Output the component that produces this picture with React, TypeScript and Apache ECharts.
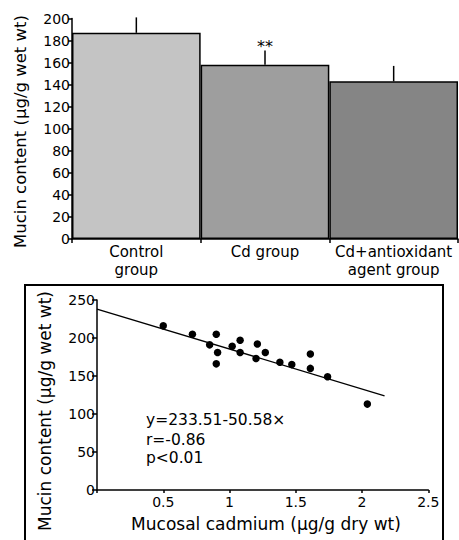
import React, { useEffect, useRef } from 'react';
import * as echarts from 'echarts';

const groups = ['Control\ngroup', 'Cd group', 'Cd+antioxidant\nagent group'];
const mucinMeans = [187, 158, 143];
const mucinErrors = [14, 13, 14];
const significance = ['', '**', ''];
const barColors = ['#c4c4c4', '#9e9e9e', '#858585'];

const cadmium = [0.5, 0.72, 0.9, 0.85, 0.91, 0.9, 1.02, 1.08, 1.08, 1.21, 1.27, 1.2, 1.38, 1.47, 1.61, 1.61, 1.74, 2.04];
const mucinScatter = [216, 205, 205, 191, 181, 166, 189, 197, 181, 192, 181, 173, 168, 165, 179, 160, 149, 113];
const fitLineX = [0, 2.17];
const fitLineY = [238, 124];
const statLines = ['y=233.51-50.58×', 'r=-0.86', 'p<0.01'];

const yTitle = 'Mucin content (μg/g wet wt)';
const xTitle = 'Mucosal cadmium (μg/g dry wt)';

const FONT = '"DejaVu Sans", Verdana, sans-serif';

export default function App() {
  const ref = useRef<HTMLDivElement>(null);
  useEffect(() => {
    if (!ref.current) return;
    const chart = echarts.init(ref.current, null, { renderer: 'svg' });
    const axisLine = { show: true, lineStyle: { color: '#000', width: 1.5 } };
    const axisTick = (len: number) => ({ show: true, length: len, lineStyle: { color: '#000', width: 1.5 } });
    chart.setOption({
      animation: false,
      backgroundColor: '#fff',
      grid: [
        { left: 72, top: 18.5, width: 386, height: 220.5 },
        { left: 97, top: 300, width: 331.3, height: 190 },
      ],
      xAxis: [
        {
          gridIndex: 0,
          type: 'category',
          data: groups,
          axisLine,
          axisTick: { ...axisTick(4), interval: 0 },
          axisLabel: { color: '#000', fontSize: 15, lineHeight: 18, margin: 4, fontFamily: FONT, interval: 0 },
          splitLine: { show: false },
        },
        {
          gridIndex: 1,
          type: 'value',
          min: 0,
          max: 2.5,
          interval: 0.5,
          axisLine: { ...axisLine, onZero: false },
          axisTick: axisTick(3),
          axisLabel: {
            color: '#000', fontSize: 14, margin: 5, fontFamily: FONT,
            formatter: (v: number) => (v === 0 ? '' : String(v)),
          },
          splitLine: { show: false },
        },
      ],
      yAxis: [
        {
          gridIndex: 0,
          type: 'value',
          min: 0,
          max: 200,
          interval: 20,
          axisLine,
          axisTick: axisTick(4),
          axisLabel: { color: '#000', fontSize: 14, margin: 2, fontFamily: FONT },
          splitLine: { show: false },
        },
        {
          gridIndex: 1,
          type: 'value',
          min: 0,
          max: 250,
          interval: 50,
          axisLine: { ...axisLine, onZero: false },
          axisTick: axisTick(5),
          axisLabel: { color: '#000', fontSize: 14, margin: 2, fontFamily: FONT },
          splitLine: { show: false },
        },
      ],
      series: [
        {
          type: 'bar',
          xAxisIndex: 0,
          yAxisIndex: 0,
          barCategoryGap: '0%',
          data: mucinMeans.map((v, i) => ({ value: v, itemStyle: { color: barColors[i] } })),
          itemStyle: { borderColor: '#000', borderWidth: 1.5 },
        },
        {
          type: 'custom',
          xAxisIndex: 0,
          yAxisIndex: 0,
          z: 5,
          data: mucinMeans.map((v, i) => [i, v, mucinErrors[i]]),
          renderItem: (params: any, api: any) => {
            const i = api.value(0);
            const v = api.value(1);
            const e = api.value(2);
            const p0 = api.coord([i, v]);
            const p1 = api.coord([i, v + e]);
            const children: any[] = [
              {
                type: 'line',
                shape: { x1: p0[0], y1: p0[1], x2: p1[0], y2: p1[1] },
                style: { stroke: '#000', lineWidth: 1.5 },
              },
            ];
            const s = significance[params.dataIndex];
            if (s) {
              children.push({
                type: 'text',
                x: p1[0],
                y: p1[1] - 4,
                style: { text: s, fill: '#000', fontSize: 16, fontFamily: FONT, align: 'center', verticalAlign: 'middle' },
              });
            }
            return { type: 'group', children };
          },
        },
        {
          type: 'line',
          xAxisIndex: 1,
          yAxisIndex: 1,
          data: fitLineX.map((x, i) => [x, fitLineY[i]]),
          showSymbol: false,
          symbol: 'none',
          lineStyle: { color: '#000', width: 1.3 },
        },
        {
          type: 'scatter',
          xAxisIndex: 1,
          yAxisIndex: 1,
          data: cadmium.map((x, i) => [x, mucinScatter[i]]),
          symbol: 'circle',
          symbolSize: 7.5,
          itemStyle: { color: '#000', opacity: 1 },
        },
      ],
      graphic: [
        {
          type: 'rect',
          shape: { x: 25, y: 285, width: 418, height: 270 },
          style: { fill: 'none', stroke: '#000', lineWidth: 2 },
        },
        {
          type: 'text',
          x: 20,
          y: 131.5,
          rotation: Math.PI / 2,
          style: { text: yTitle, fill: '#000', fontSize: 16.5, fontFamily: FONT, align: 'center', verticalAlign: 'middle' },
        },
        {
          type: 'text',
          x: 45,
          y: 411,
          rotation: Math.PI / 2,
          style: { text: yTitle, fill: '#000', fontSize: 17, fontFamily: FONT, align: 'center', verticalAlign: 'middle' },
        },
        {
          type: 'text',
          x: 266,
          y: 524,
          style: { text: xTitle, fill: '#000', fontSize: 17, fontFamily: FONT, align: 'center', verticalAlign: 'middle' },
        },
        ...statLines.map((t, i) => ({
          type: 'text',
          x: 146,
          y: [420, 439.5, 458][i],
          style: { text: t, fill: '#000', fontSize: 15.5, fontFamily: FONT, align: 'left', verticalAlign: 'middle' },
        })),
      ],
    });
    return () => chart.dispose();
  }, []);
  return <div ref={ref} style={{ position: 'absolute', left: 0, top: 0, width: 459, height: 540 }} />;
}
